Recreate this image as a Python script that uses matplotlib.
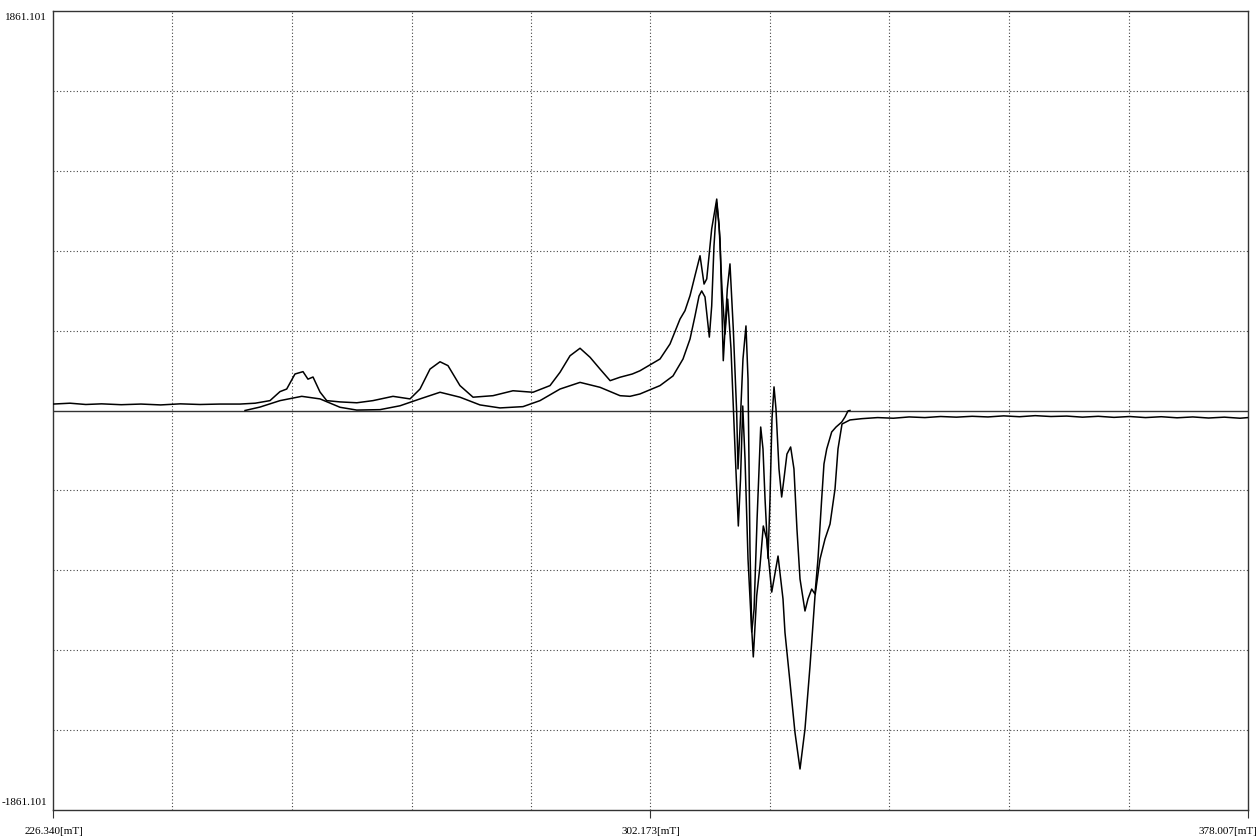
"""EPR spectrum: experimental trace vs. simulation."""

import matplotlib

matplotlib.use("Agg")
import matplotlib.pyplot as plt
import numpy as np

X_MIN, X_MAX = 226.340, 378.007
Y_LIM = 1861.101

# experimental trace (field in mT, intensity)
exp_field = [
    226.34, 228.5, 230.5, 232.5, 235.0, 237.5, 240.0, 242.5, 245.0, 247.5,
    250.07, 252.0, 253.88, 255.15, 256.0, 257.05, 258.07, 258.7, 259.34, 260.23,
    261.08, 262.77, 264.9, 266.95, 269.49, 271.65, 272.92, 274.19, 275.46, 276.47,
    277.99, 279.65, 282.18, 284.72, 287.26, 289.42, 290.69, 291.96, 293.23, 294.5,
    295.77, 297.05, 298.31, 299.86, 300.83, 303.38, 304.65, 305.92, 306.55, 307.19,
    307.82, 308.46, 308.97, 309.31, 309.94, 310.58, 311.0, 311.41, 311.92, 312.26,
    312.68, 313.11, 313.28, 313.53, 313.91, 314.29, 314.55, 314.8, 315.02, 315.22,
    315.65, 316.07, 316.49, 316.92, 317.56, 318.36, 318.99, 319.24, 319.88, 320.51,
    321.15, 321.78, 322.42, 323.05, 323.69, 324.32, 324.96, 325.59, 325.97, 326.48,
    327.49, 329.0, 331.0, 333.0, 335.0, 337.0, 339.0, 341.0, 343.0, 345.0,
    347.0, 349.0, 351.0, 353.0, 355.0, 357.0, 359.0, 361.0, 363.0, 365.0,
    367.0, 369.0, 371.0, 373.0, 375.0, 377.0, 378.007,
]
exp_signal = [
    30, 34, 28, 31, 27, 30, 26, 31, 28, 30,
    30, 34, 46, 88, 100, 170, 181, 146, 156, 86,
    46, 40, 36, 46, 66, 54, 100, 193, 227, 209,
    116, 62, 69, 92, 85, 116, 178, 255, 290, 248,
    193, 139, 155, 170, 185, 240, 310, 426, 465, 535,
    628, 721, 589, 613, 846, 985, 799, 232, 566, 683,
    380, -7, -272, -86, 240, 394, 147, -645, -1018, -1148,
    -864, -724, -538, -599, -846, -678, -878, -1034, -1267, -1500,
    -1670, -1484, -1190, -864, -692, -599, -529, -366, -179, -63,
    -44, -38, -33, -36, -30, -33, -28, -31, -27, -30,
    -25, -29, -24, -28, -26, -31, -27, -32, -28, -33,
    -29, -34, -30, -35, -31, -36, -33,
]

# simulated spectrum
sim_field = [
    250.71, 252.61, 255.15, 257.91, 260.23, 262.77, 264.89, 267.84, 270.38, 272.92,
    275.46, 277.99, 280.53, 283.07, 285.99, 288.15, 290.69, 293.23, 295.77, 298.31,
    299.57, 300.83, 303.38, 305.03, 306.3, 307.19, 307.82, 308.33, 308.67, 309.09,
    309.64, 309.94, 310.23, 310.58, 310.87, 311.25, 311.63, 311.97, 312.39, 312.9,
    313.32, 313.6, 313.88, 314.17, 314.55, 315.02, 315.32, 315.7, 316.16, 316.45,
    316.71, 317.09, 317.34, 317.59, 317.85, 318.1, 318.48, 318.82, 319.11, 319.49,
    319.96, 320.38, 320.76, 321.15, 321.78, 322.16, 322.63, 323.05, 323.43, 323.9,
    324.19, 324.54, 325.17, 325.72, 326.44, 326.86, 327.24, 327.49,
]
sim_signal = [
    0, 16, 46, 66, 54, 15, 2, 4, 22, 54,
    85, 62, 26, 12, 18, 46, 100, 131, 108, 69,
    66, 77, 116, 161, 240, 333, 440, 533, 557, 529,
    342, 487, 766, 967, 869, 566, 356, 519, 287, -179,
    -538, -319, 21, -226, -692, -1032, -925, -506, -77, -179,
    -412, -689, -412, -40, 110, 7, -272, -403, -319, -203,
    -170, -272, -552, -785, -934, -878, -832, -855, -692, -412,
    -249, -179, -100, -77, -54, -30, -2, 0,
]

fig = plt.figure(figsize=(12.6, 8.37), dpi=100)
ax = fig.add_axes([53 / 1260, 1 - 811 / 837, 1195 / 1260, 799 / 837])
ax.set_xlim(X_MIN, X_MAX)
ax.set_ylim(-Y_LIM, Y_LIM)

# dotted 10 x 10 grid, solid zero line
for gx in np.linspace(X_MIN, X_MAX, 11)[1:-1]:
    ax.axvline(gx, color="#444444", lw=0.8, ls=(0, (1, 2)), zorder=1)
for gy in np.linspace(-Y_LIM, Y_LIM, 11)[1:-1]:
    if abs(gy) > 1e-6:
        ax.axhline(gy, color="#444444", lw=0.8, ls=(0, (1, 2)), zorder=1)
ax.axhline(0, color="#333333", lw=1.0, zorder=2)

ax.plot(exp_field, exp_signal, color="black", lw=1.1, zorder=3)
ax.plot(sim_field, sim_signal, color="black", lw=1.1, zorder=3)

for s in ax.spines.values():
    s.set_color("#333333")
    s.set_linewidth(1.0)

ax.set_yticks([])
ax.set_xticks([X_MIN, (X_MIN + X_MAX) / 2, X_MAX])
ax.set_xticklabels([])
ax.tick_params(axis="x", direction="out", length=6, width=0.8, color="#333333")

font = dict(family="Liberation Serif", size=8, color="black")
fig.text(47 / 1260, 1 - 18 / 837, "1861.101", ha="right", va="center", **font)
fig.text(47 / 1260, 1 - 803 / 837, "-1861.101", ha="right", va="center", **font)
fig.text(54 / 1260, 1 - 832 / 837, "226.340[mT]", ha="center", va="center", **font)
fig.text(650.5 / 1260, 1 - 832 / 837, "302.173[mT]", ha="center", va="center", **font)
fig.text(1257 / 1260, 1 - 832 / 837, "378.007[mT]", ha="right", va="center", **font)

fig.savefig("out.png", dpi=100)
plt.close(fig)
